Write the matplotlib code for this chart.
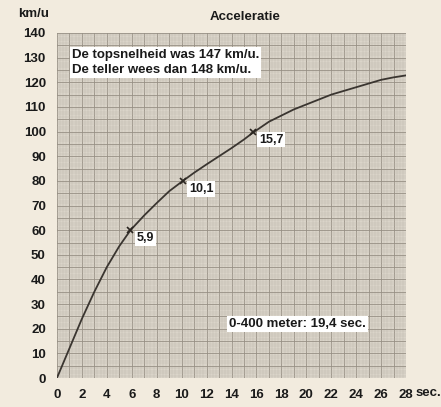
import numpy as np
import matplotlib.pyplot as plt
from matplotlib.ticker import MultipleLocator

plt.rcParams['font.family'] = ['Liberation Sans', 'DejaVu Sans']
plt.rcParams['font.weight'] = 'bold'

# curve (seconds, km/u)
tijd = [0, 1, 2, 3, 4, 5, 5.9, 7, 8, 9, 10.1, 11, 12, 13, 14, 15, 15.7, 17, 18, 19, 20, 21, 22, 23, 24, 25, 26, 27, 28]
snelheid = [0, 12, 24, 35, 45, 53.5, 60, 66, 71, 75.8, 80, 83.3, 86.7, 90, 93.3, 96.8, 99.5, 104, 106.5, 109, 111, 113, 115, 116.5, 118, 119.5, 121, 122, 122.8]

# marked points
punt_t = [5.9, 10.1, 15.7]
punt_v = [60, 80, 100]
punt_labels = ["5,9", "10,1", "15,7"]

x_ticks = list(range(0, 29, 2))
y_ticks = list(range(0, 141, 10))

fig = plt.figure(figsize=(4.41, 4.07), dpi=100)
fig.patch.set_facecolor('#f2ebde')
ax = fig.add_axes([0.129, 0.071, 0.792, 0.848])
ax.set_facecolor('#dad4c9')

ax.plot(tijd, snelheid, color='#3a3530', lw=1.3)
ax.plot(punt_t, punt_v, 'x', color='#2a2520', ms=5, mew=1.2)
for t, v, lab in zip(punt_t, punt_v, punt_labels):
    ax.text(t + 0.5, v - 4.5, lab, fontsize=9, fontweight='bold', color='#1a1a1a',
            bbox=dict(facecolor='white', edgecolor='none', pad=1.2))

ax.xaxis.set_minor_locator(MultipleLocator(0.25))
ax.yaxis.set_minor_locator(MultipleLocator(1))
ax.xaxis.set_major_locator(MultipleLocator(1))
ax.yaxis.set_major_locator(MultipleLocator(5))
ax.grid(which='minor', color='#c0b9ae', lw=0.3)
ax.grid(which='major', color='#968f84', lw=0.6)
ax.set_axisbelow(True)
ax.set_xlim(0, 28)
ax.set_ylim(0, 140)

# only even seconds and tens are labelled
ax.set_xticklabels([str(int(v)) if int(v) in x_ticks and v == int(v) else '' for v in ax.get_xticks()])
ax.set_yticklabels([str(int(v)) if int(v) in y_ticks and v == int(v) else '' for v in ax.get_yticks()])
ax.set_xlim(0, 28)
ax.set_ylim(0, 140)
ax.tick_params(which='both', length=0)
ax.tick_params(labelsize=9.5, pad=8, colors='#1a1a1a')
for s in ax.spines.values():
    s.set_visible(False)

ax.text(28.75, -0.043, "sec.", transform=ax.get_xaxis_transform(), fontsize=9.5,
        fontweight='bold', ha='left', va='center', color='#1a1a1a')
fig.text(0.075, 0.965, "km/u", fontsize=9.5, fontweight='bold', ha='center', va='center', color='#1a1a1a')
fig.text(0.555, 0.958, "Acceleratie", fontsize=9.5, fontweight='bold', ha='center', va='center', color='#1a1a1a')

ax.text(1.2, 128, "De topsnelheid was 147 km/u.\nDe teller wees dan 148 km/u.", fontsize=9.5,
        fontweight='bold', va='center', color='#1a1a1a', linespacing=1.3,
        bbox=dict(facecolor='white', edgecolor='none', pad=1.5))
ax.text(13.8, 22, "0-400 meter: 19,4 sec.", fontsize=9.5, fontweight='bold', va='center',
        color='#1a1a1a', bbox=dict(facecolor='white', edgecolor='none', pad=1.5))

fig.savefig('out.png', dpi=100, facecolor=fig.get_facecolor())
